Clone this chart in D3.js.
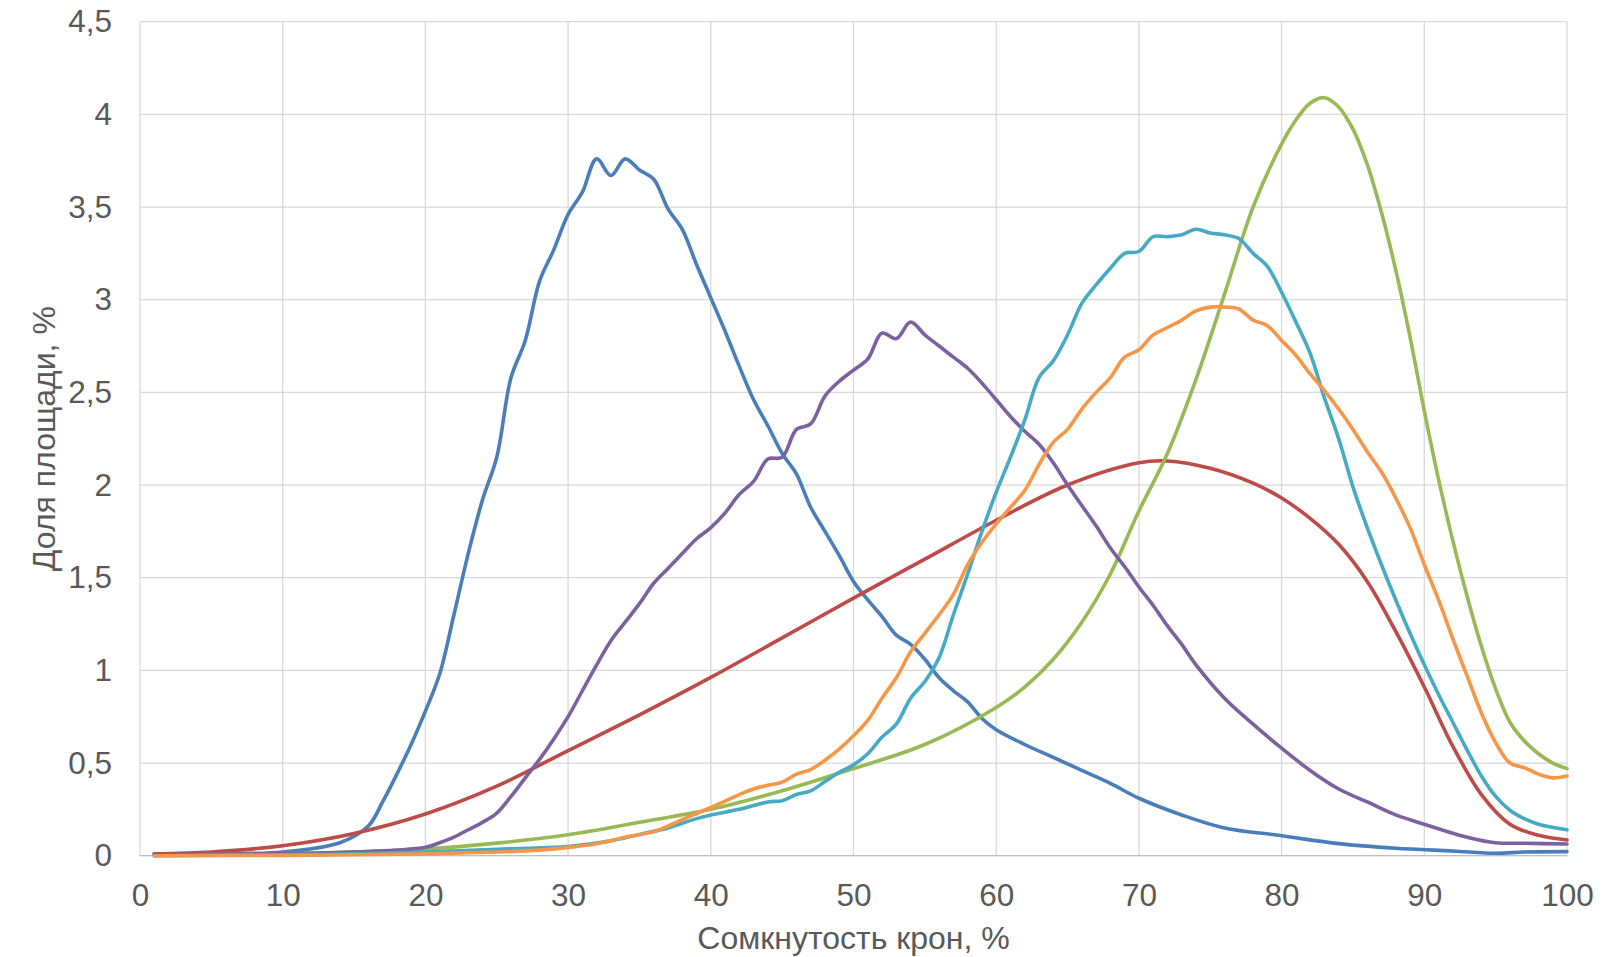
<!DOCTYPE html>
<html lang="ru">
<head>
<meta charset="UTF-8">
<title>Доля площади по сомкнутости крон</title>
<script src="https://d3js.org/d3.v7.min.js"></script>
<style>
  body { margin: 0; background: #fff; }
  text { font-family: "Liberation Sans", Arial, sans-serif; fill: #595959; }
</style>
</head>
<body>
<div id="chart"></div>
<script>
// x ticks / y ticks
const xTicks = [0, 10, 20, 30, 40, 50, 60, 70, 80, 90, 100];
const yTicks = [0, 0.5, 1, 1.5, 2, 2.5, 3, 3.5, 4, 4.5];

// series: [сомкнутость %, доля %]
const blue = [[1,0.01],[5,0.01],[10,0.02],[14,0.07],[16,0.16],[17,0.29],[18,0.44],[19,0.6],[20,0.78],[21,0.98],
  [22,1.3],[23,1.63],[24,1.92],[25,2.15],[26,2.58],[27,2.78],[28,3.1],[29,3.27],[30,3.46],[31,3.58],[32,3.76],
  [33,3.67],[34,3.76],[35,3.7],[36,3.65],[37,3.49],[38,3.38],[39,3.19],[40,3.01],[41,2.83],[42,2.64],[43,2.46],
  [44,2.32],[45,2.17],[46,2.06],[47,1.88],[48,1.75],[49,1.62],[50,1.48],[51,1.38],[52,1.29],[53,1.19],[54,1.14],
  [55,1.06],[56,0.96],[57,0.89],[58,0.83],[59,0.74],[60,0.68],[62,0.6],[64,0.53],[66,0.46],[68,0.39],[70,0.31],
  [73,0.22],[76,0.15],[80,0.108],[84,0.065],[88,0.04],[92,0.025],[95,0.013],[97,0.02],[100,0.022]];
const red = [[1,0.01],[5,0.02],[10,0.054],[15,0.12],[20,0.225],[25,0.375],[30,0.567],[35,0.76],[40,0.962],
  [45,1.175],[50,1.39],[55,1.6],[60,1.81],[65,2.0],[70,2.12],[72,2.13],[75,2.09],[78,2.01],[80,1.93],[82,1.82],
  [84,1.68],[86,1.48],[88,1.21],[90,0.91],[92,0.59],[94,0.33],[96,0.17],[98,0.11],[100,0.085]];
const green = [[1,0.003],[10,0.01],[15,0.02],[20,0.036],[25,0.068],[30,0.113],[35,0.18],[40,0.25],[45,0.35],
  [50,0.47],[55,0.6],[60,0.8],[62,0.91],[64,1.06],[66,1.26],[68,1.52],[70,1.86],[72,2.17],[74,2.57],[76,3.03],
  [78,3.5],[80,3.84],[81,3.97],[82,4.06],[83,4.09],[84,4.04],[85,3.92],[86,3.73],[87,3.47],[88,3.16],[89,2.8],
  [90,2.4],[91,2.03],[92,1.7],[93,1.4],[94,1.13],[95,0.9],[96,0.72],[97,0.62],[98,0.55],[99,0.5],[100,0.47]];
const purple = [[1,0.005],[10,0.01],[15,0.02],[18,0.03],[20,0.045],[21,0.07],[22,0.1],[23,0.14],[24,0.18],
  [25,0.23],[26,0.32],[27,0.42],[28,0.52],[29,0.63],[30,0.75],[31,0.89],[32,1.03],[33,1.16],[34,1.26],[35,1.36],
  [36,1.47],[37,1.55],[38,1.63],[39,1.71],[40,1.77],[41,1.85],[42,1.95],[43,2.02],[44,2.14],[45,2.15],[46,2.3],
  [47,2.33],[48,2.48],[49,2.56],[50,2.62],[51,2.68],[52,2.82],[53,2.79],[54,2.88],[55,2.81],[56,2.75],[57,2.69],
  [58,2.63],[59,2.55],[60,2.46],[61,2.37],[62,2.29],[63,2.22],[64,2.12],[65,2.0],[66,1.89],[67,1.78],[68,1.66],
  [69,1.56],[70,1.45],[71,1.35],[72,1.24],[73,1.14],[74,1.03],[76,0.85],[78,0.71],[80,0.58],[82,0.46],[84,0.36],
  [86,0.29],[88,0.22],[90,0.17],[93,0.1],[95,0.07],[97,0.067],[100,0.063]];
const aqua = [[1,0.0],[10,0.005],[15,0.01],[20,0.02],[25,0.035],[30,0.05],[33,0.08],[35,0.115],[37,0.15],
  [39,0.2],[40,0.22],[42,0.25],[44,0.29],[45,0.297],[46,0.33],[47,0.35],[48,0.4],[49,0.45],[50,0.49],[51,0.55],
  [52,0.64],[53,0.71],[54,0.85],[55,0.94],[56,1.07],[57,1.3],[58,1.52],[59,1.75],[60,1.96],[61,2.15],[62,2.35],
  [63,2.58],[64,2.67],[65,2.81],[66,2.98],[67,3.08],[68,3.17],[69,3.25],[70,3.26],[71,3.34],[72,3.34],[73,3.35],
  [74,3.38],[75,3.36],[76,3.35],[77,3.33],[78,3.25],[79,3.18],[80,3.04],[81,2.88],[82,2.71],[83,2.47],[84,2.25],
  [85,1.99],[86,1.77],[87,1.57],[88,1.38],[89,1.2],[90,1.03],[91,0.87],[92,0.72],[93,0.57],[94,0.43],[95,0.32],
  [96,0.245],[97,0.2],[98,0.17],[100,0.14]];
const orange = [[1,0.0],[10,0.002],[15,0.005],[20,0.01],[25,0.02],[28,0.03],[30,0.045],[32,0.065],[34,0.1],
  [36,0.13],[38,0.195],[40,0.26],[41,0.295],[42,0.33],[43,0.36],[44,0.38],[45,0.397],[46,0.44],[47,0.465],
  [48,0.515],[49,0.575],[50,0.647],[51,0.73],[52,0.85],[53,0.96],[54,1.1],[55,1.2],[56,1.3],[57,1.41],[58,1.57],
  [59,1.69],[60,1.79],[61,1.88],[62,1.97],[63,2.11],[64,2.23],[65,2.3],[66,2.41],[67,2.5],[68,2.58],[69,2.69],
  [70,2.73],[71,2.81],[72,2.85],[73,2.89],[74,2.94],[75,2.96],[76,2.96],[77,2.95],[78,2.89],[79,2.86],[80,2.78],
  [81,2.7],[82,2.6],[83,2.51],[84,2.41],[85,2.3],[86,2.18],[87,2.07],[88,1.93],[89,1.77],[90,1.57],[91,1.38],
  [92,1.17],[93,0.97],[94,0.77],[95,0.61],[96,0.5],[97,0.475],[98,0.44],[99,0.42],[100,0.43]];

const seriesList = [blue, red, green, purple, aqua, orange];
const colors = ["#4A7EBB", "#BE4B48", "#98B954", "#7D60A0", "#46AAC5", "#F79646"];

const margin = {top: 21.7, right: 42, bottom: 101.3, left: 140},
    W = 1609, H = 957,
    width = W - margin.left - margin.right,
    height = H - margin.top - margin.bottom;

const svg = d3.select("#chart").append("svg")
    .attr("width", W)
    .attr("height", H);

const g = svg.append("g")
    .attr("transform", `translate(${margin.left},${margin.top})`);

const x = d3.scaleLinear().domain([0, 100]).range([0, width]);
const y = d3.scaleLinear().domain([0, 4.5]).range([height, 0]);

const fmt = v => String(v).replace(".", ",");

// gridlines
g.append("g")
    .selectAll("line.h")
    .data(yTicks)
    .join("line")
    .attr("x1", 0).attr("x2", width)
    .attr("y1", d => y(d)).attr("y2", d => y(d))
    .attr("stroke", "#D9D9D9").attr("stroke-width", 1.3);

g.append("g")
    .selectAll("line.v")
    .data(xTicks)
    .join("line")
    .attr("x1", d => x(d)).attr("x2", d => x(d))
    .attr("y1", 0).attr("y2", height)
    .attr("stroke", "#D9D9D9").attr("stroke-width", 1.3);

// bottom axis line
g.append("line")
    .attr("x1", 0).attr("x2", width)
    .attr("y1", height).attr("y2", height)
    .attr("stroke", "#BFBFBF").attr("stroke-width", 1.3);

// axes (labels only)
const xAxis = g.append("g")
    .attr("transform", `translate(0,${height})`)
    .call(d3.axisBottom(x).tickValues(xTicks).tickSize(0).tickPadding(28).tickFormat(fmt));
const yAxis = g.append("g")
    .call(d3.axisLeft(y).tickValues(yTicks).tickSize(0).tickPadding(28).tickFormat(fmt));

[xAxis, yAxis].forEach(a => {
    a.select(".domain").remove();
    a.selectAll("text")
        .attr("fill", "#595959")
        .style("font-size", "31.5px")
        .style("font-family", "'Liberation Sans', Arial, sans-serif");
});

// lines
const line = d3.line()
    .x(d => x(d[0]))
    .y(d => y(d[1]))
    .curve(d3.curveCatmullRom.alpha(0.5));

g.append("g")
    .selectAll("path")
    .data(seriesList)
    .join("path")
    .attr("d", line)
    .attr("fill", "none")
    .attr("stroke", (d, i) => colors[i])
    .attr("stroke-width", 3.6)
    .attr("stroke-linejoin", "round")
    .attr("stroke-linecap", "round");

// axis titles
svg.append("text")
    .attr("x", margin.left + width / 2)
    .attr("y", 949)
    .attr("text-anchor", "middle")
    .style("font-size", "32px")
    .text("Сомкнутость крон, %");

svg.append("text")
    .attr("transform", `translate(55,${margin.top + height / 2}) rotate(-90)`)
    .attr("text-anchor", "middle")
    .style("font-size", "32px")
    .text("Доля площади, %");
</script>
</body>
</html>
